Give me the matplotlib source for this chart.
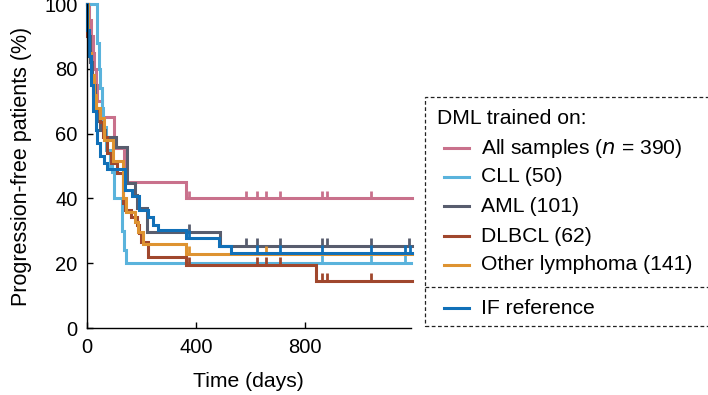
import numpy as np
import matplotlib
matplotlib.use("Agg")
import matplotlib.pyplot as plt
from matplotlib.lines import Line2D
from matplotlib.patches import Rectangle

plt.rcParams['font.family'] = ['Liberation Sans', 'DejaVu Sans']

# Kaplan-Meier style step curves (days, % progression-free)
all_t = [0, 8, 15, 22, 28, 34, 40, 55, 100, 137, 364, 1190]
all_s = [100, 95, 90, 85, 80, 75, 70, 65, 55.5, 45, 40, 40]
all_cens = [375, 584, 624, 657, 708, 862, 880, 1041]

cll_t = [0, 40, 44, 50, 55, 60, 72, 85, 95, 100, 130, 136, 144, 1188]
cll_s = [100, 88, 80, 74, 68, 62, 55, 50, 48, 40, 30, 24, 20, 20]
cll_cens = [862, 1041, 1166]

aml_t = [0, 5, 12, 20, 30, 40, 50, 68, 108, 148, 178, 185, 221, 489, 1190]
aml_s = [100, 90, 82, 75, 68, 64, 61, 59, 56, 44.7, 41, 37, 29.6, 25.4, 25.4]
aml_cens = [375, 584, 624, 708, 862, 880, 1041, 1180]

dl_t = [0, 3, 8, 15, 25, 35, 49, 60, 75, 90, 110, 134, 141, 163, 185, 192, 200, 225, 364, 840, 1190]
dl_s = [100, 90, 85, 78, 72, 67, 63.6, 59, 54, 51, 47.8, 38.5, 36.4, 34.3, 31.8, 29.2, 26.6, 22, 19.4, 14.6, 14.6]
dl_cens = [375, 624, 657, 708, 862, 880, 1041]

oth_t = [0, 4, 10, 18, 26, 35, 49, 65, 97, 134, 145, 178, 189, 207, 364, 1190]
oth_s = [100, 92, 85, 78, 72, 68, 64.7, 58, 51.5, 40, 35.8, 32.7, 29.6, 26, 22.8, 22.8]
oth_cens = [375, 657]

if_t = [0, 3, 10, 18, 25, 33, 40, 50, 64, 75, 141, 166, 192, 225, 243, 262, 364, 486, 528, 1190]
if_s = [100, 92, 84, 75, 67, 61, 57, 53, 51, 49, 42.6, 40.7, 36.4, 34.2, 31.8, 30.2, 27.8, 25.4, 23.1, 23.1]
if_cens = [375, 624, 708, 862, 1041, 1166, 1186]

labels = ['All samples ($\\it{n}$ = 390)', 'CLL (50)', 'AML (101)', 'DLBCL (62)',
          'Other lymphoma (141)']
colors = ['#c9718c', '#5ab3dc', '#585d6e', '#a0472d', '#de9331']
if_color = '#1170b8'

series = [(all_t, all_s, all_cens), (cll_t, cll_s, cll_cens), (aml_t, aml_s, aml_cens),
          (dl_t, dl_s, dl_cens), (oth_t, oth_s, oth_cens)]

fig = plt.figure(figsize=(7.08, 3.95), dpi=100)
ax = fig.add_axes([86.5 / 708, 1 - 328 / 395, (411 - 86.5) / 708, (328 - 4) / 395])


def km(t, s, cens, col):
    ax.step(t, s, where='post', color=col, lw=2.2, solid_joinstyle='miter', clip_on=False)
    idx = np.searchsorted(t, cens, side='right') - 1
    ax.plot(cens, np.array(s)[idx] + 1.2, ls='none', marker='|', ms=6, mew=2,
            color=col, clip_on=False)


for (t, s, c), col in zip(series, colors):
    km(t, s, c, col)
km(if_t, if_s, if_cens, if_color)

ax.set_xlim(0, 1188)
ax.set_ylim(0, 100)
ax.set_xticks([0, 400, 800])
ax.set_yticks([0, 20, 40, 60, 80, 100])
ax.spines['top'].set_visible(False)
ax.spines['right'].set_visible(False)
for sp in ax.spines.values():
    sp.set_linewidth(1.0)
ax.tick_params(direction='in', length=4, width=1, labelsize=14.5)
ax.tick_params(axis='x', pad=7)
ax.tick_params(axis='y', pad=6.5)
ax.set_xlabel('Time (days)', fontsize=15.2, labelpad=11)
ax.set_ylabel('Progression-free patients (%)', fontsize=15.5, labelpad=9)

# legend box drawn by hand (dashed frame with separator)
W, H = 708.0, 395.0
def fx(px):
    return px / W
def fy(py):
    return 1 - py / H

fig.add_artist(Rectangle((fx(425), fy(326)), fx(720) - fx(425), fy(97) - fy(326),
                         transform=fig.transFigure, fill=False, ls=(0, (3, 2)),
                         lw=0.9, ec='#222222', clip_on=False))
fig.add_artist(Line2D([fx(425), fx(708)], [fy(287), fy(287)], transform=fig.transFigure,
                      ls=(0, (3, 2)), lw=0.9, color='#222222'))
fig.text(fx(437), fy(118), 'DML trained on:', fontsize=15.2, va='center', ha='left')
rows = [148, 177, 206, 236, 265]
for py, lab, col in zip(rows, labels, colors):
    fig.add_artist(Line2D([fx(444), fx(469)], [fy(py), fy(py)], transform=fig.transFigure,
                          color=col, lw=2.2))
    fig.text(fx(481), fy(py), lab, fontsize=15.2, va='center', ha='left')
fig.add_artist(Line2D([fx(444), fx(469)], [fy(308), fy(308)], transform=fig.transFigure,
                      color=if_color, lw=2.2))
fig.text(fx(481), fy(308), 'IF reference', fontsize=15.2, va='center', ha='left')

fig.savefig('out.png', dpi=100)
